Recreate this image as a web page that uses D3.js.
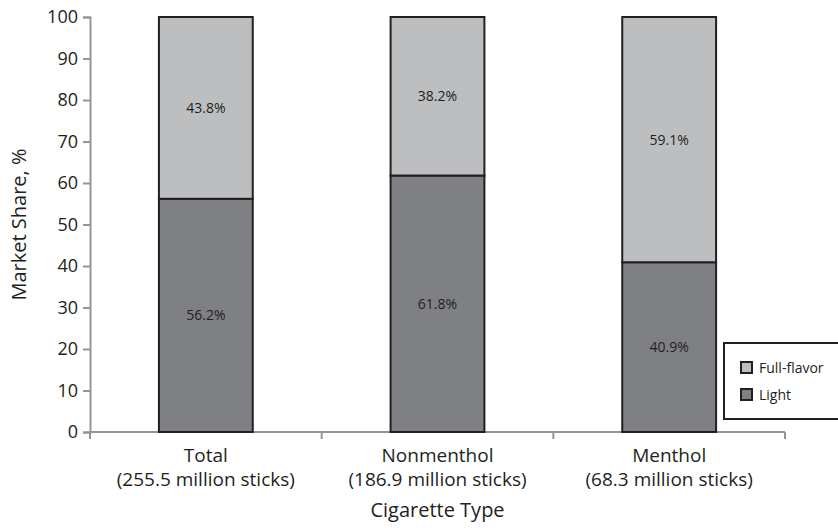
<!DOCTYPE html>
<html>
<head>
<meta charset="utf-8">
<script src="https://cdn.jsdelivr.net/npm/d3@7"></script>
<style>
html,body{margin:0;padding:0;background:#fff;}
svg{display:block;font-family:"Open Sans",sans-serif;}
</style>
</head>
<body>
<svg id="chart" width="838" height="530"></svg>
<script>
const categories = ["Total", "Nonmenthol", "Menthol"];
const subLabels = ["(255.5 million sticks)", "(186.9 million sticks)", "(68.3 million sticks)"];
const lightValues = [56.2, 61.8, 40.9];
const fullFlavorValues = [43.8, 38.2, 59.1];
const seriesNames = ["Light", "Full-flavor"];
const yTicks = [0, 10, 20, 30, 40, 50, 60, 70, 80, 90, 100];

const colors = {"Light": "#7f8084", "Full-flavor": "#bdbec0"};
const svg = d3.select("#chart");
const margin = {left: 90, right: 53, top: 17, bottom: 98};
const W = 838, H = 530;

const x = d3.scaleBand().domain(categories).range([margin.left, W - margin.right]).paddingInner(0).paddingOuter(0);
const y = d3.scaleLinear().domain([0, 100]).range([H - margin.bottom, margin.top]);

const axisColor = "#939598";
const textColor = "#231f20";

// y axis
const yAxis = svg.append("g").attr("transform", `translate(${margin.left},0)`)
  .call(d3.axisLeft(y).tickValues(yTicks).tickSize(7).tickPadding(5));
yAxis.select(".domain").attr("stroke", axisColor).attr("stroke-width", 2);
yAxis.selectAll(".tick line").attr("stroke", axisColor).attr("stroke-width", 2);
yAxis.selectAll(".tick text").attr("fill", textColor).style("font-size", "18px").style("font-family", '"Open Sans",sans-serif');

// x axis
const xAxisY = y(0);
const xAxis = svg.append("g").attr("transform", `translate(0,${xAxisY})`);
xAxis.append("line").attr("x1", margin.left).attr("x2", W - margin.right).attr("y1", 0).attr("y2", 0)
  .attr("stroke", axisColor).attr("stroke-width", 2);
const bounds = categories.map(c => x(c)).concat([x(categories[categories.length - 1]) + x.bandwidth()]);
xAxis.selectAll(".xt").data(bounds).enter().append("line")
  .attr("x1", d => d).attr("x2", d => d).attr("y1", 0).attr("y2", 7)
  .attr("stroke", axisColor).attr("stroke-width", 2);

// stacked bars
const stackData = categories.map((c, i) => ({cat: c, "Light": lightValues[i], "Full-flavor": fullFlavorValues[i]}));
const stacked = d3.stack().keys(seriesNames)(stackData);
const barW = x.bandwidth() * 0.405;

const groups = svg.append("g").selectAll("g").data(stacked).enter().append("g");
groups.selectAll("rect").data(s => s.map(d => ({key: s.key, d}))).enter().append("rect")
  .attr("x", o => x(o.d.data.cat) + x.bandwidth() / 2 - barW / 2)
  .attr("y", o => y(o.d[1]))
  .attr("width", barW)
  .attr("height", o => y(o.d[0]) - y(o.d[1]))
  .attr("fill", o => colors[o.key])
  .attr("stroke", "#231f20")
  .attr("stroke-width", 2);

groups.selectAll("text").data(s => s.map(d => ({key: s.key, d}))).enter().append("text")
  .attr("x", o => x(o.d.data.cat) + x.bandwidth() / 2)
  .attr("y", o => y((o.d[0] + o.d[1]) / 2))
  .attr("dy", "0.35em")
  .attr("text-anchor", "middle")
  .attr("fill", textColor)
  .style("font-size", "14px")
  .text(o => (o.d[1] - o.d[0]).toFixed(1) + "%");

// category labels
const catG = svg.append("g");
categories.forEach((c, i) => {
  const cx = x(c) + x.bandwidth() / 2;
  catG.append("text").attr("x", cx).attr("y", xAxisY + 30).attr("text-anchor", "middle")
    .attr("fill", textColor).style("font-size", "19px").text(c);
  catG.append("text").attr("x", cx).attr("y", xAxisY + 54).attr("text-anchor", "middle")
    .attr("fill", textColor).style("font-size", "19px").text(subLabels[i]);
});

// axis titles
svg.append("text").attr("x", (margin.left + W - margin.right) / 2).attr("y", 517)
  .attr("text-anchor", "middle").attr("fill", textColor).style("font-size", "20px").text("Cigarette Type");
svg.append("text").attr("transform", `translate(26,${(y(0) + y(100)) / 2}) rotate(-90)`)
  .attr("text-anchor", "middle").attr("fill", textColor).style("font-size", "20px").text("Market Share, %");

// legend
const lg = svg.append("g").attr("transform", "translate(724,343)");
lg.append("rect").attr("x", 0).attr("y", 0).attr("width", 130).attr("height", 76)
  .attr("fill", "#fff").attr("stroke", "#231f20").attr("stroke-width", 2);
const legendItems = ["Full-flavor", "Light"];
legendItems.forEach((k, i) => {
  lg.append("rect").attr("x", 17).attr("y", 19 + i * 27).attr("width", 11).attr("height", 11)
    .attr("fill", colors[k]).attr("stroke", "#231f20").attr("stroke-width", 2);
  lg.append("text").attr("x", 35).attr("y", 25 + i * 27).attr("dy", "0.35em")
    .attr("fill", textColor).style("font-size", "14px").text(k);
});
</script>
</body>
</html>
